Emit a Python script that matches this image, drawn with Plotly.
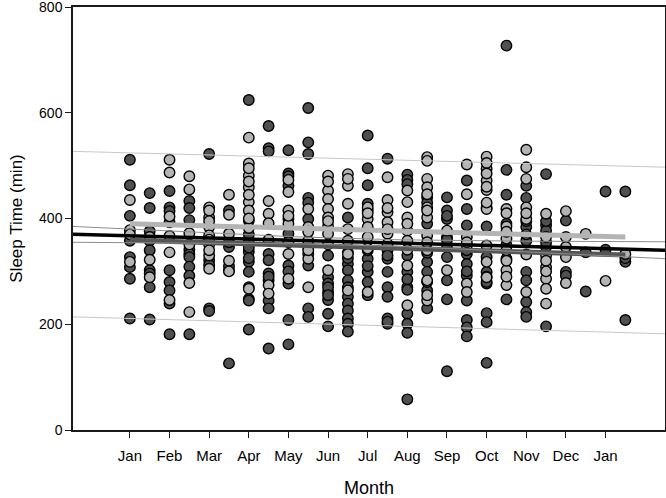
import plotly.graph_objects as go

# Half-month columns: index 0 = Jan, 2 = Feb, ... 24 = Jan (next year)
month_labels = ["Jan", "Feb", "Mar", "Apr", "May", "Jun", "Jul", "Aug",
                "Sep", "Oct", "Nov", "Dec", "Jan"]
month_positions = [0, 2, 4, 6, 8, 10, 12, 14, 16, 18, 20, 22, 24]

dark_vals = [
    [511, 463, 405, 358, 327, 308, 286, 211],
    [448, 420, 376, 358, 340, 302, 296, 270, 209],
    [452, 421, 414, 393, 302, 280, 264, 239, 181],
    [433, 420, 397, 341, 333, 327, 309, 292, 181],
    [522, 321, 230, 225, 362, 312],
    [415, 346, 302, 126, 355, 310],
    [624, 396, 355, 337, 318, 299, 248, 245, 190, 345, 325, 370],
    [575, 533, 527, 333, 321, 296, 283, 245, 230, 154, 290],
    [529, 485, 462, 371, 311, 277, 208, 162, 480, 300],
    [609, 544, 522, 439, 399, 311, 230, 214, 430, 345],
    [330, 289, 277, 261, 246, 220, 196, 270, 255],
    [402, 336, 314, 302, 283, 252, 239, 226, 211, 201, 186, 325, 270],
    [557, 495, 463, 428, 324, 299, 280, 255, 415, 340, 310],
    [513, 340, 324, 299, 270, 252, 211, 201, 330, 205],
    [483, 473, 330, 299, 270, 220, 201, 184, 58, 465, 285, 265],
    [440, 390, 318, 299, 264, 230, 430, 335, 280],
    [440, 415, 399, 365, 349, 327, 283, 247, 111, 405, 360],
    [472, 418, 387, 333, 314, 292, 245, 208, 194, 177, 340, 300],
    [421, 385, 327, 299, 277, 221, 204, 127, 290, 280],
    [727, 492, 445, 324, 247, 390, 350],
    [462, 439, 384, 358, 299, 283, 242, 223, 214, 395, 370],
    [484, 387, 377, 346, 196, 395, 355],
    [396, 299, 292],
    [336, 262],
    [451, 341],
    [451, 318, 208, 325],
]

light_vals = [
    [435, 378, 370, 318],
    [322, 289, 365],
    [511, 487, 404, 367, 336, 246],
    [480, 455, 372, 351, 278, 223],
    [421, 402, 384, 368, 351, 330, 305, 415, 395, 360, 340],
    [445, 407, 371, 320, 300],
    [553, 504, 481, 459, 431, 415, 382, 270, 267, 495, 470, 445, 400],
    [433, 409, 391, 360, 274, 258],
    [473, 450, 415, 399, 390, 355, 333, 286, 405],
    [418, 384, 358, 333, 324, 270, 375, 340],
    [481, 453, 437, 418, 402, 385, 371, 351, 302, 470, 395],
    [484, 462, 428, 380, 358, 333, 264, 475],
    [421, 399, 384, 365, 343, 261, 410],
    [478, 435, 412, 393, 371, 352, 420, 380],
    [453, 431, 402, 377, 358, 341, 311, 236, 390],
    [516, 509, 475, 459, 446, 421, 402, 368, 340, 283, 245, 415, 355, 255],
    [377, 302],
    [502, 446, 365, 349, 277, 261, 355],
    [517, 494, 472, 454, 418, 349, 318, 289, 505, 485, 460, 430],
    [418, 385, 362, 340, 302, 274, 410, 375, 320, 290],
    [530, 497, 475, 421, 399, 332, 261, 410],
    [409, 365, 330, 308, 286, 267, 239, 320, 300],
    [414, 365, 346, 327, 278],
    [371],
    [282],
    [333],
]

# Fitted lines (values at the given x positions)
x_axis_range = [-2.87, 27.0]
fit_all_x = [-2.87, 27.0]
fit_all_y = [370, 340]
fit_dark_x = [0, 25]
fit_dark_y = [359, 331]
fit_light_x = [0, 25]
fit_light_y = [390, 365]
pred_upper_y = [527, 497]
pred_lower_y = [214, 182]
conf_center_x = 11.5
conf_half_min = 6.0
conf_half_edge = 15.0


def expand(cols):
    xs, ys = [], []
    for k, vals in enumerate(cols):
        for v in vals:
            xs.append(k)
            ys.append(v)
    return xs, ys


dx, dy = expand(dark_vals)
lx, ly = expand(light_vals)

fig = go.Figure()

marker_common = dict(size=10.5, line=dict(color="black", width=1.4))
fig.add_trace(go.Scatter(x=dx, y=dy, mode="markers",
                         marker=dict(color="#505050", **marker_common),
                         showlegend=False, hoverinfo="skip"))
fig.add_trace(go.Scatter(x=lx, y=ly, mode="markers",
                         marker=dict(color="#b4b4b4", **marker_common),
                         showlegend=False, hoverinfo="skip"))

# prediction interval lines
fig.add_trace(go.Scatter(x=fit_all_x, y=pred_upper_y, mode="lines",
                         line=dict(color="#c8c8c8", width=1),
                         showlegend=False, hoverinfo="skip"))
fig.add_trace(go.Scatter(x=fit_all_x, y=pred_lower_y, mode="lines",
                         line=dict(color="#c8c8c8", width=1),
                         showlegend=False, hoverinfo="skip"))

# group fits
fig.add_trace(go.Scatter(x=fit_light_x, y=fit_light_y, mode="lines",
                         line=dict(color="#b4b4b4", width=5),
                         showlegend=False, hoverinfo="skip"))
fig.add_trace(go.Scatter(x=fit_dark_x, y=fit_dark_y, mode="lines",
                         line=dict(color="#555555", width=5),
                         showlegend=False, hoverinfo="skip"))

# confidence band of overall fit
slope = (fit_all_y[1] - fit_all_y[0]) / (fit_all_x[1] - fit_all_x[0])
b = (conf_half_edge ** 2 - conf_half_min ** 2) / (conf_center_x - fit_all_x[0]) ** 2
n = 60
cx = [fit_all_x[0] + (fit_all_x[1] - fit_all_x[0]) * i / (n - 1) for i in range(n)]
cmid = [fit_all_y[0] + slope * (x - fit_all_x[0]) for x in cx]
chw = [(conf_half_min ** 2 + b * (x - conf_center_x) ** 2) ** 0.5 for x in cx]
fig.add_trace(go.Scatter(x=cx, y=[m + h for m, h in zip(cmid, chw)], mode="lines",
                         line=dict(color="#8c8c8c", width=1),
                         showlegend=False, hoverinfo="skip"))
fig.add_trace(go.Scatter(x=cx, y=[m - h for m, h in zip(cmid, chw)], mode="lines",
                         line=dict(color="#8c8c8c", width=1),
                         showlegend=False, hoverinfo="skip"))

# overall fit
fig.add_trace(go.Scatter(x=fit_all_x, y=fit_all_y, mode="lines",
                         line=dict(color="black", width=3.5),
                         showlegend=False, hoverinfo="skip"))

font_family = "Arial, Liberation Sans, sans-serif"
fig.update_layout(
    width=666, height=498,
    margin=dict(l=73, r=1, t=7, b=68, autoexpand=False),
    paper_bgcolor="white", plot_bgcolor="white",
    font=dict(family=font_family, color="black", size=15),
    xaxis=dict(
        range=x_axis_range, tickmode="array",
        tickvals=month_positions, ticktext=month_labels,
        showgrid=False, zeroline=False, automargin=False,
        showline=True, linecolor="#1a1a1a", linewidth=1.5, mirror=True,
        ticks="outside", ticklen=6, tickwidth=1.2, tickcolor="#1a1a1a",
        ticklabelstandoff=5,
        tickfont=dict(size=15),
        title=dict(text="Month", font=dict(size=18), standoff=21),
    ),
    yaxis=dict(
        range=[0, 800], tickmode="array",
        tickvals=[0, 200, 400, 600, 800],
        showgrid=False, zeroline=False, automargin=False,
        showline=True, linecolor="#1a1a1a", linewidth=1.5, mirror=True,
        ticks="outside", ticklen=6, tickwidth=1.2, tickcolor="#1a1a1a",
        ticklabeloverflow="allow",
        tickfont=dict(size=14),
        title=dict(text="Sleep Time (min)", font=dict(size=17), standoff=12),
    ),
)

fig.write_html("out.html", config={"displayModeBar": False},
               post_script="document.body.style.margin='0';")
